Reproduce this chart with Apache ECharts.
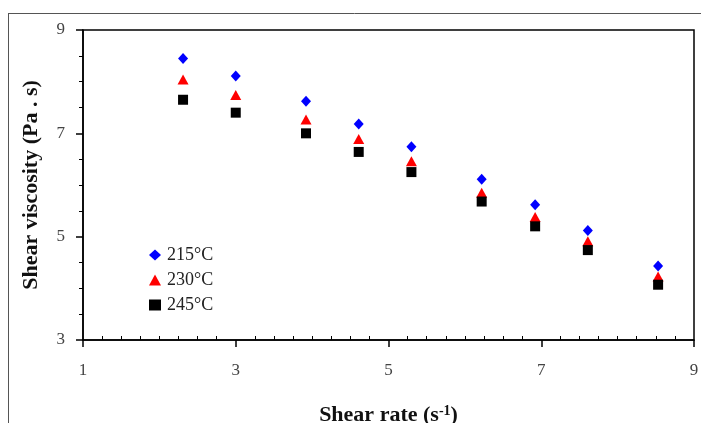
<!DOCTYPE html>
<html>
<head>
<meta charset="utf-8">
<script src="https://cdn.jsdelivr.net/npm/echarts@6/dist/echarts.min.js"></script>
<style>
html,body{margin:0;padding:0;background:#fff;}
#chart{width:701px;height:423px;}
</style>
</head>
<body>
<div id="chart"></div>
<script>
// Data
const shearRate = [2.31, 3.00, 3.92, 4.61, 5.30, 6.22, 6.92, 7.61, 8.53];
const visc215 = [8.45, 8.11, 7.62, 7.18, 6.74, 6.11, 5.62, 5.12, 4.43];
const visc230 = [8.04, 7.74, 7.27, 6.89, 6.46, 5.85, 5.38, 4.91, 4.23];
const visc245 = [7.65, 7.40, 7.00, 6.64, 6.25, 5.68, 5.20, 4.74, 4.07];
const seriesNames = ['215°C', '230°C', '245°C'];
const xTicks = [1, 3, 5, 7, 9];
const yTicks = [3, 5, 7, 9];

const FONT = '"Liberation Serif", "Times New Roman", serif';
const pair = (xs, ys) => xs.map((x, i) => [x, ys[i]]);

const chart = echarts.init(document.getElementById('chart'), null, {renderer: 'canvas'});
chart.setOption({
  animation: false,
  backgroundColor: '#fff',
  textStyle: {fontFamily: FONT},
  graphic: [
    {type: 'line', shape: {x1: 8, y1: 13.5, x2: 701, y2: 13.5}, style: {stroke: '#555', lineWidth: 1}, silent: true},
    {type: 'line', shape: {x1: 8.5, y1: 13, x2: 8.5, y2: 423}, style: {stroke: '#555', lineWidth: 1}, silent: true}
  ],
  grid: {
    left: 83, top: 30, right: 7, bottom: 83,
    outerBoundsMode: 'none', containLabel: false,
    show: true, borderColor: '#000', borderWidth: 1.5, backgroundColor: 'transparent'
  },
  legend: {
    orient: 'vertical',
    left: 149, top: 246, padding: 0,
    itemWidth: 12, itemHeight: 11, itemGap: 7,
    textStyle: {fontFamily: FONT, fontSize: 18, color: '#222', lineHeight: 17, padding: [0, 0, 0, 1]},
    data: [
      {name: seriesNames[0], icon: 'diamond'},
      {name: seriesNames[1], icon: 'triangle'},
      {name: seriesNames[2], icon: 'rect'}
    ]
  },
  xAxis: [{
    type: 'value', min: xTicks[0], max: xTicks[xTicks.length - 1], interval: 2,
    name: 'Shear rate (s{sup|-1})',
    nameLocation: 'middle', nameGap: 64,
    nameTextStyle: {
      fontFamily: FONT, fontSize: 22, fontWeight: 'bold', color: '#111',
      rich: {sup: {fontFamily: FONT, fontSize: 14, fontWeight: 'bold', color: '#111', verticalAlign: 'top', lineHeight: 22, padding: [0, 0, 9, 0]}}
    },
    axisLine: {lineStyle: {color: '#000', width: 1.5}},
    axisTick: {show: true, length: 7, lineStyle: {color: '#000', width: 1.5}},
    axisLabel: {fontFamily: FONT, fontSize: 17, color: '#444', margin: 22},
    splitLine: {show: false}
  }, {
    type: 'value', min: xTicks[0], max: xTicks[xTicks.length - 1], interval: 2,
    position: 'bottom', offset: 0,
    axisLine: {show: false},
    axisTick: {show: false, inside: true},
    minorTick: {show: true, splitNumber: 8, length: 4, lineStyle: {color: '#000', width: 1}},
    axisLabel: {show: false},
    splitLine: {show: false}
  }],
  yAxis: {
    type: 'value', min: yTicks[0], max: yTicks[yTicks.length - 1], interval: 2,
    name: 'Shear viscosity (Pa . s)',
    nameLocation: 'middle', nameGap: 41,
    nameTextStyle: {fontFamily: FONT, fontSize: 22, fontWeight: 'bold', color: '#111'},
    axisLine: {lineStyle: {color: '#000', width: 1.5}},
    axisTick: {show: true, length: 7, lineStyle: {color: '#000', width: 1.5}},
    minorTick: {show: true, splitNumber: 4, length: 4, lineStyle: {color: '#000', width: 1}},
    axisLabel: {fontFamily: FONT, fontSize: 17, color: '#444', margin: 18},
    splitLine: {show: false}
  },
  series: [
    {name: seriesNames[0], type: 'scatter', symbol: 'diamond', symbolSize: [10, 11],
     itemStyle: {color: '#0000ff', opacity: 1}, data: pair(shearRate, visc215)},
    {name: seriesNames[1], type: 'scatter', symbol: 'triangle', symbolSize: [11, 10],
     itemStyle: {color: '#ff0000', opacity: 1}, data: pair(shearRate, visc230)},
    {name: seriesNames[2], type: 'scatter', symbol: 'rect', symbolSize: 10,
     itemStyle: {color: '#000000', opacity: 1}, data: pair(shearRate, visc245)}
  ]
});
</script>
</body>
</html>
